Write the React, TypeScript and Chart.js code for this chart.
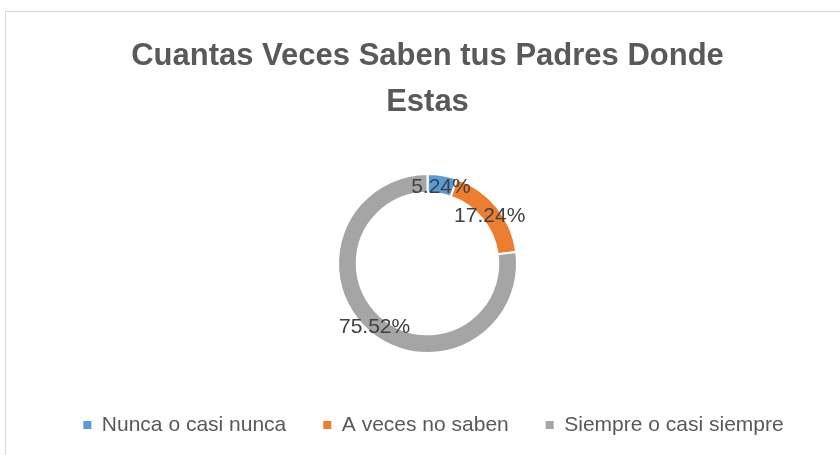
import React, { useEffect, useRef } from "react";
import { Chart, registerables } from "chart.js";

Chart.register(...registerables);

const titleLines = ["Cuantas Veces Saben tus Padres Donde", "Estas"];
const categories = ["Nunca o casi nunca", "A veces no saben", "Siempre o casi siempre"];
const values = [5.24, 17.24, 75.52];
const valueLabels = ["5.24%", "17.24%", "75.52%"];
const colors = ["#5B9BD5", "#ED7D31", "#A5A5A5"];

const FONT = "'Liberation Sans', Arial, sans-serif";

const sliceLabels = {
  id: "sliceLabels",
  afterDatasetsDraw(chart: any) {
    const ctx = chart.ctx;
    const meta = chart.getDatasetMeta(0);
    ctx.save();
    ctx.font = `21px ${FONT}`;
    ctx.fillStyle = "#404040";
    ctx.textAlign = "center";
    ctx.textBaseline = "middle";
    meta.data.forEach((arc: any, i: number) => {
      const p = arc.tooltipPosition(false);
      ctx.fillText(valueLabels[i], p.x, p.y + 3);
    });
    ctx.restore();
  },
};

const legendShift = {
  id: "legendShift",
  afterLayout(chart: any) {
    const lg = chart.legend;
    if (lg) {
      lg.left += 6;
      lg.right += 6;
    }
  },
};

export default function App() {
  const ref = useRef<HTMLCanvasElement | null>(null);

  useEffect(() => {
    if (!ref.current) return;
    const chart = new Chart(ref.current, {
      type: "doughnut",
      data: {
        labels: categories,
        datasets: [
          {
            data: values,
            backgroundColor: colors,
            borderColor: "#ffffff",
            borderWidth: 2,
          },
        ],
      },
      options: {
        responsive: false,
        animation: false,
        devicePixelRatio: 1,
        radius: 89.5,
        cutout: 70,
        layout: { padding: { left: 15, right: 0, top: 0, bottom: 9.5 } },
        plugins: {
          tooltip: { enabled: false },
          title: {
            display: true,
            text: titleLines,
            color: "#595959",
            font: { family: FONT, size: 31, weight: "bold", lineHeight: 46 / 31 },
            padding: { top: 33, bottom: 49 },
          },
          legend: {
            display: true,
            position: "bottom",
            title: {
              display: true,
              text: " ",
              padding: 0,
              font: { family: FONT, size: 10, lineHeight: 2.45 },
            },
            labels: {
              color: "#595959",
              font: { family: FONT, size: 21 },
              boxWidth: 8,
              boxHeight: 8,
              padding: 37,
              generateLabels: (ch: any) =>
                categories.map((c, i) => ({
                  text: c,
                  fillStyle: colors[i],
                  strokeStyle: colors[i],
                  lineWidth: 0,
                  fontColor: "#595959",
                  hidden: false,
                  index: i,
                })),
            },
          },
        },
      },
      plugins: [sliceLabels, legendShift],
    });
    return () => chart.destroy();
  }, []);

  return (
    <div
      style={{
        position: "fixed",
        left: 0,
        top: 0,
        width: 840,
        height: 455,
        overflow: "hidden",
        background: "#ffffff",
      }}
    >
      <div
        style={{
          position: "absolute",
          left: 5,
          top: 11,
          width: 900,
          height: 500,
          border: "1px solid #d9d9d9",
          boxSizing: "border-box",
        }}
      />
      <canvas
        ref={ref}
        width={840}
        height={455}
        style={{ position: "absolute", left: 0, top: 0, width: 840, height: 455 }}
      />
    </div>
  );
}
